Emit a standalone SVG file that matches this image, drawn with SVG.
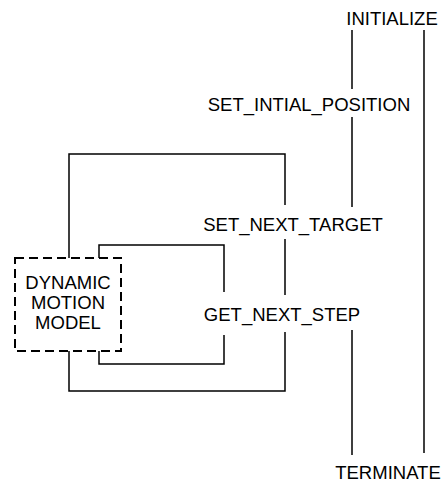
<svg xmlns="http://www.w3.org/2000/svg" width="441" height="482" viewBox="0 0 441 482">
<style>
.t{font-family:"Liberation Sans",Arial,sans-serif;font-size:18.5px;fill:#000;text-anchor:middle}
.c{fill:none;stroke:#000;stroke-width:1.5}
.box{fill:#fff;stroke:#000;stroke-width:2;stroke-dasharray:9,5}
</style>
<rect width="441" height="482" fill="#fff"/>
<g id="connectors">
<path class="c" d="M69,258 V154 H285 V205 M285,239 V295 M285,332 V391 H69 V351"/>
<path class="c" d="M99,258 V245 H224 V292 M224,335 V364 H99 V351"/>
<path class="c" d="M352,30 V89 M352,117 V207 M352,330 V455"/>
<path class="c" d="M424,30 V453"/>
</g>
<g id="initialize"><text class="t" x="392" y="25">INITIALIZE</text></g>
<g id="set_initial_position"><text class="t" x="309" y="111">SET_INTIAL_POSITION</text></g>
<g id="set_next_target"><text class="t" x="293" y="231">SET_NEXT_TARGET</text></g>
<g id="get_next_step"><text class="t" x="282" y="321">GET_NEXT_STEP</text></g>
<g id="terminate"><text class="t" x="388" y="479">TERMINATE</text></g>
<g id="dynamic_motion_model">
<rect class="box" x="15" y="258" width="106" height="93"/>
<text class="t" x="68" y="289">DYNAMIC</text>
<text class="t" x="68" y="309">MOTION</text>
<text class="t" x="68" y="329">MODEL</text>
</g>
</svg>
